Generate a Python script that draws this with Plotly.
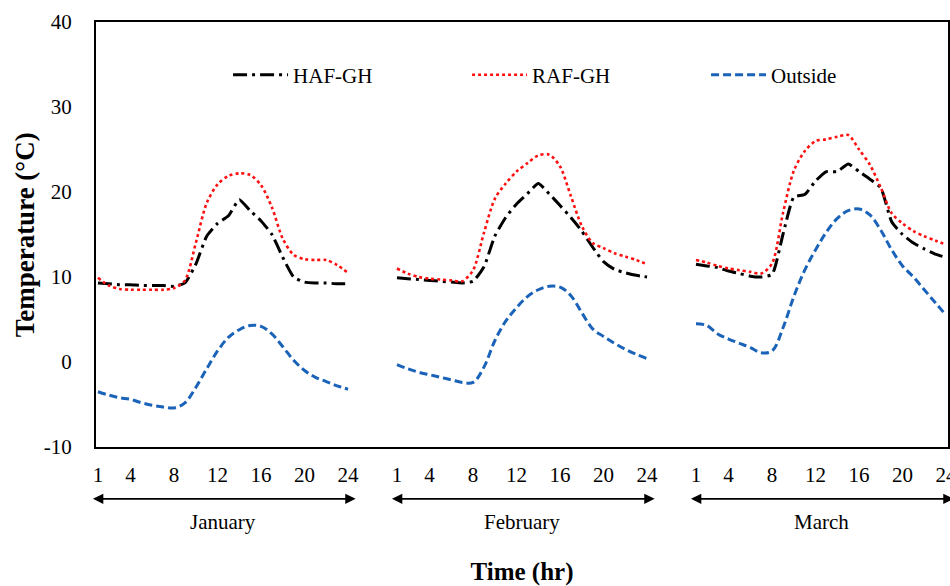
import plotly.graph_objects as go

hours = list(range(1, 25))
months = ["January", "February", "March"]
month_offset = 27.5
tick_hours = [1, 4, 8, 12, 16, 20, 24]
y_ticks = [-10, 0, 10, 20, 30, 40]
y_ticktext = ["-10", "0", "10", "20", "30", "40"]

haf_jan = [9.3, 9.2, 9.1, 9.1, 9.0, 9.0, 9.0, 8.9, 9.3, 11.5, 14.8, 16.3, 17.2, 19.1, 17.8, 16.6, 15.0, 12.3, 10.0, 9.4, 9.3, 9.3, 9.2, 9.2]
raf_jan = [9.9, 9.0, 8.6, 8.5, 8.5, 8.5, 8.5, 8.7, 9.6, 14.0, 18.7, 20.9, 21.9, 22.2, 22.0, 20.8, 18.2, 14.5, 12.6, 12.1, 12.0, 12.0, 11.4, 10.5]
out_jan = [-3.5, -3.9, -4.2, -4.4, -4.8, -5.1, -5.3, -5.4, -4.8, -3.0, -0.8, 1.3, 2.9, 3.8, 4.3, 4.2, 3.3, 1.8, 0.2, -1.0, -1.8, -2.3, -2.8, -3.2]

haf_feb = [9.9, 9.8, 9.7, 9.6, 9.5, 9.4, 9.3, 9.5, 11.2, 14.8, 17.0, 18.6, 19.8, 21.0, 19.8, 18.4, 17.0, 15.4, 13.5, 11.8, 10.9, 10.5, 10.2, 10.0]
raf_feb = [11.0, 10.4, 10.0, 9.8, 9.7, 9.6, 9.5, 10.8, 15.2, 19.2, 21.0, 22.4, 23.4, 24.3, 24.4, 23.0, 19.5, 16.0, 14.0, 13.4, 12.8, 12.4, 12.0, 11.5]
out_feb = [-0.3, -0.8, -1.2, -1.5, -1.8, -2.1, -2.4, -2.4, -0.6, 2.5, 4.8, 6.4, 7.7, 8.5, 8.9, 8.8, 7.8, 5.8, 3.9, 3.0, 2.2, 1.5, 0.9, 0.4]

haf_mar = [11.5, 11.3, 11.1, 10.7, 10.4, 10.1, 10.0, 10.3, 15.0, 19.4, 19.7, 21.3, 22.4, 22.4, 23.3, 22.4, 21.5, 20.5, 16.5, 15.0, 14.0, 13.3, 12.7, 12.3]
raf_mar = [12.0, 11.7, 11.3, 11.0, 10.8, 10.6, 10.4, 11.6, 17.5, 22.5, 24.8, 26.0, 26.2, 26.5, 26.7, 25.0, 23.2, 20.5, 17.5, 16.3, 15.4, 14.8, 14.3, 13.8]
out_mar = [4.5, 4.3, 3.3, 2.7, 2.2, 1.7, 1.1, 1.3, 4.0, 7.7, 10.8, 13.2, 15.3, 16.9, 17.8, 18.0, 17.3, 15.5, 13.2, 11.3, 10.0, 8.5, 7.0, 5.5]

haf = [haf_jan, haf_feb, haf_mar]
raf = [raf_jan, raf_feb, raf_mar]
out = [out_jan, out_feb, out_mar]

FONT = "Liberation Serif, Times New Roman, serif"
series = [
    ("HAF-GH", haf, dict(color="black", width=3, dash="14px,5px,3px,5px"), 0.5),
    ("RAF-GH", raf, dict(color="#FF1010", width=2.6, dash="dot"), 0.8),
    ("Outside", out, dict(color="#1B63B8", width=3, dash="8px,4px"), 1.0),
]

fig = go.Figure()
for name, data, line, smooth in series:
    for m in range(3):
        xs = [h + m * month_offset for h in hours]
        fig.add_trace(go.Scatter(
            x=xs, y=data[m], mode="lines", name=name,
            line=dict(shape="spline", smoothing=smooth, **line),
            legendgroup=name, showlegend=(m == 0),
        ))

tickvals = [h + m * month_offset for m in range(3) for h in tick_hours]
ticktext = [str(h) for m in range(3) for h in tick_hours]

for m, mname in enumerate(months):
    x0 = 1 + m * month_offset - 0.6
    x1 = 24 + m * month_offset + 0.7
    fig.add_annotation(
        x=x1, y=-0.122, xref="x", yref="paper",
        ax=x0, ay=0, axref="x", ayref="pixel",
        text="", showarrow=True, arrowhead=2, arrowside="end+start",
        arrowsize=1.3, arrowwidth=1.6, arrowcolor="black",
    )
    fig.add_annotation(
        x=12.5 + m * month_offset, y=-0.177, xref="x", yref="paper",
        text=mname, showarrow=False, yanchor="middle",
        font=dict(family=FONT, size=21, color="black"),
    )

# y-axis title placed as a rotated annotation for exact position
fig.add_annotation(
    x=-0.0835, y=0.5, xref="paper", yref="paper",
    text="<b>Temperature (°C)</b>", textangle=-90, showarrow=False,
    xanchor="center", yanchor="middle",
    font=dict(family=FONT, size=27, color="black"),
)

fig.update_layout(
    width=950, height=586,
    margin=dict(l=96, r=2, t=22, b=139, autoexpand=False),
    plot_bgcolor="white", paper_bgcolor="white",
    font=dict(family=FONT, size=20, color="black"),
    legend=dict(
        orientation="h", x=0.155, y=0.875, xanchor="left", yanchor="middle",
        entrywidth=169, itemwidth=55, bgcolor="rgba(0,0,0,0)",
        font=dict(family=FONT, size=21, color="black"),
    ),
)
fig.update_xaxes(
    range=[0.82, 79.18], tickmode="array", tickvals=tickvals, ticktext=ticktext,
    showgrid=False, zeroline=False, showline=True, linecolor="black", linewidth=2,
    mirror=True, ticks="", ticklabelstandoff=8, automargin=False,
    ticklabeloverflow="allow",
    tickfont=dict(family=FONT, size=21),
    title=dict(text="<b>Time (hr)</b>", font=dict(family=FONT, size=25), standoff=80),
)
fig.update_yaxes(
    range=[-10, 40], tickmode="array", tickvals=y_ticks, ticktext=y_ticktext,
    showgrid=False, zeroline=False, showline=True, linecolor="black", linewidth=2,
    mirror=True, ticks="", ticklabelstandoff=18, automargin=False,
    tickfont=dict(family=FONT, size=21),
)

fig.write_html(
    "out.html",
    config={"displayModeBar": False},
    post_script="document.body.style.margin='0';document.body.style.overflow='hidden';",
)
